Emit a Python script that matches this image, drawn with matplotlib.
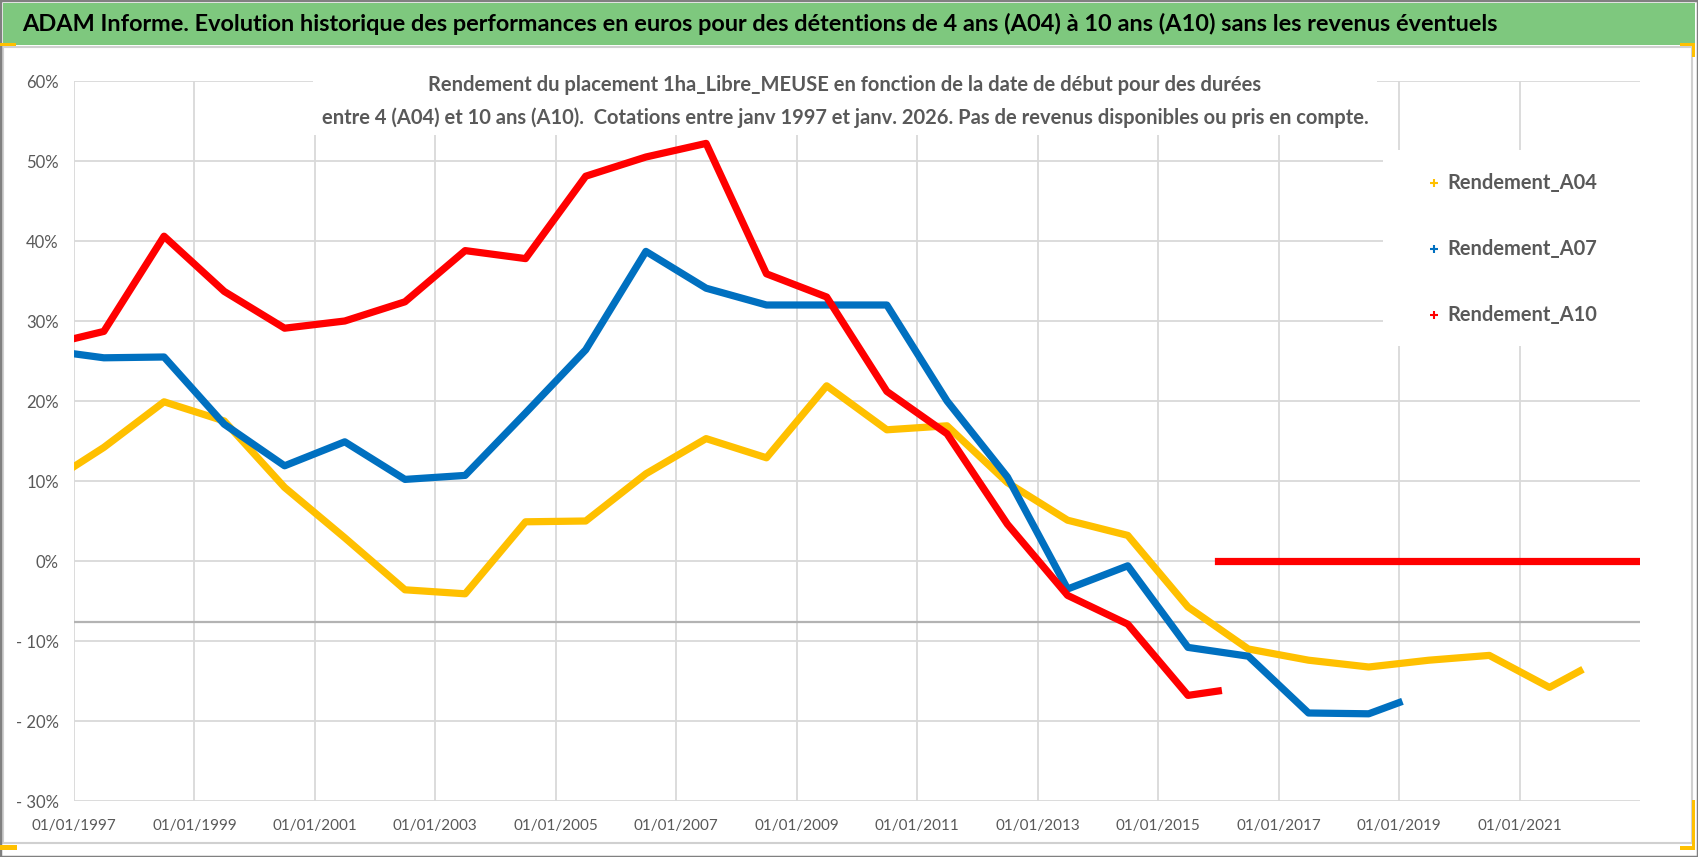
import matplotlib
matplotlib.use("Agg")
import matplotlib.pyplot as plt
import matplotlib.dates as mdates
from matplotlib.patches import Rectangle
from matplotlib.lines import Line2D
import pandas as pd

plt.rcParams['font.family'] = ['Lato', 'DejaVu Sans']

W, H = 1698, 857

# start of the quotations, then one point per year (mid-year), then the last possible start
dates_a04 = ['1997-01-01'] + [f'{y}-07-01' for y in range(1997, 2022)] + ['2022-01-01']
dates_a07 = ['1997-01-01'] + [f'{y}-07-01' for y in range(1997, 2019)] + ['2019-01-01']
dates_a10 = ['1997-01-01'] + [f'{y}-07-01' for y in range(1997, 2016)] + ['2016-01-01']

a04 = [11.8, 14.2, 19.9, 17.5, 9.2, 2.9, -3.6, -4.1, 4.9, 5.0, 10.9, 15.3, 12.9,
       21.9, 16.4, 16.9, 9.8, 5.1, 3.2, -5.75, -11.0, -12.4, -13.25, -12.4, -11.8,
       -15.8, -13.75]
a07 = [25.9, 25.4, 25.5, 17.1, 11.9, 14.9, 10.2, 10.7, 18.5, 26.4, 38.7, 34.1,
       32.0, 32.0, 32.0, 20.0, 10.5, -3.5, -0.6, -10.8, -11.9, -19.0, -19.1, -17.7]
a10 = [27.8, 28.7, 40.6, 33.7, 29.1, 30.0, 32.4, 38.8, 37.8, 48.1, 50.5, 52.2,
       35.9, 33.0, 21.2, 15.9, 4.6, -4.3, -7.9, -16.8, -16.25]

# A10 has no values after 2016: drawn as zero
dates_a10_empty = ['2016-01-01', '2023-01-01']
a10_empty = [0, 0]

series = [
    ('Rendement_A04', dates_a04, a04, '#FFC000'),
    ('Rendement_A07', dates_a07, a07, '#0070C0'),
    ('Rendement_A10', dates_a10, a10, '#FF0000'),
]

title = ("ADAM Informe. Evolution historique des performances en euros pour des détentions "
         "de 4 ans (A04) à 10 ans (A10) sans les revenus éventuels")
subtitle_1 = ("Rendement du placement 1ha_Libre_MEUSE en fonction de la date de début "
              "pour des durées")
subtitle_2 = ("entre 4 (A04) et 10 ans (A10).  Cotations entre janv 1997 et janv. 2026. "
              "Pas de revenus disponibles ou pris en compte.")

grey_text = '#595959'

fig = plt.figure(figsize=(W / 100, H / 100), dpi=100)
ax = fig.add_axes([74 / W, 1 - 801 / H, (1640 - 74) / W, (801 - 81) / H])


def px_rect(x0, y0, x1, y1, **kw):
    # rectangle given in pixels from the top-left corner of the picture
    r = Rectangle((x0 / W, 1 - y1 / H), (x1 - x0) / W, (y1 - y0) / H,
                  transform=fig.transFigure, **kw)
    fig.add_artist(r)
    return r


def fit_width(txt, target_px):
    r = fig.canvas.get_renderer()
    w = txt.get_window_extent(renderer=r).width
    txt.set_fontsize(txt.get_fontsize() * target_px / w)


for label, d, v, c in series:
    ax.plot(pd.to_datetime(d), v, color=c, lw=5.2, zorder=3)
ax.plot(pd.to_datetime(dates_a10_empty), a10_empty, color='#FF0000', lw=5.2, zorder=3)

ax.axhline(-7.6, color='#b3b3b3', lw=1.6, zorder=1)

ax.set_xlim(pd.Timestamp('1997-01-01'), pd.Timestamp('2023-01-01'))
ax.set_ylim(-30, 60)
ax.set_xticks(pd.to_datetime([f'{y}-01-01' for y in range(1997, 2022, 2)]))
ax.xaxis.set_major_formatter(mdates.DateFormatter('%d/%m/%Y'))
yt = list(range(-30, 61, 10))
ax.set_yticks(yt)
ax.set_yticklabels([f'{t}%' if t >= 0 else f'- {abs(t)}%' for t in yt])
ax.tick_params(axis='x', length=0, pad=13, labelsize=11, labelcolor=grey_text)
ax.tick_params(axis='y', length=0, pad=11, labelsize=12, labelcolor=grey_text)
ax.grid(True, color='#d9d9d9', lw=1.3)
ax.set_axisbelow(True)
for s in ax.spines.values():
    s.set_visible(False)

# frame, title band and the white boxes that hide the grid behind the texts
px_rect(3, 3, 1695, 45, facecolor='#7EC87E', edgecolor='none', zorder=1)
px_rect(3, 47, 1692, 843, facecolor='none', edgecolor='#d0d0d0', lw=1.5, zorder=1)
px_rect(313, 55, 1377, 135, facecolor='white', edgecolor='none', zorder=1)
px_rect(1383, 150, 1652, 346, facecolor='white', edgecolor='none', zorder=1)
px_rect(0, 0, W, H, facecolor='none', edgecolor='#808080', lw=2.5, zorder=5)

handle_col = '#FFC000'
px_rect(0, 43, 16, 46, facecolor=handle_col, edgecolor='none', zorder=6)
px_rect(1680, 43, 1695, 46, facecolor=handle_col, edgecolor='none', zorder=6)
px_rect(1692, 43, 1695, 57, facecolor=handle_col, edgecolor='none', zorder=6)
px_rect(1692, 800, 1695, 850, facecolor=handle_col, edgecolor='none', zorder=6)
px_rect(1680, 846, 1695, 850, facecolor=handle_col, edgecolor='none', zorder=6)
px_rect(0, 845, 17, 850, facecolor=handle_col, edgecolor='none', zorder=6)

t = fig.text(22 / W, 1 - 24 / H, title, ha='left', va='center', fontsize=18,
             fontweight='bold', color='black', zorder=4)
fit_width(t, 1476)

s2 = fig.text(845 / W, 1 - 118 / H, subtitle_2, ha='center', va='center', fontsize=14,
              fontweight='bold', color=grey_text, zorder=4)
fit_width(s2, 1056)
s1 = fig.text(845 / W, 1 - 85 / H, subtitle_1, ha='center', va='center',
              fontsize=s2.get_fontsize(), fontweight='bold', color=grey_text, zorder=4)

for i, (label, d, v, c) in enumerate(series):
    y = 1 - (183 + 66 * i) / H
    fig.add_artist(Line2D([1434 / W], [y], marker='+', color=c, markersize=6, mew=1.5,
                          transform=fig.transFigure, zorder=4))
    lt = fig.text(1447 / W, y, label, ha='left', va='center', fontsize=16,
                  fontweight='bold', color=grey_text, zorder=4)
    fit_width(lt, 150)

fig.savefig('out.png', dpi=100)
